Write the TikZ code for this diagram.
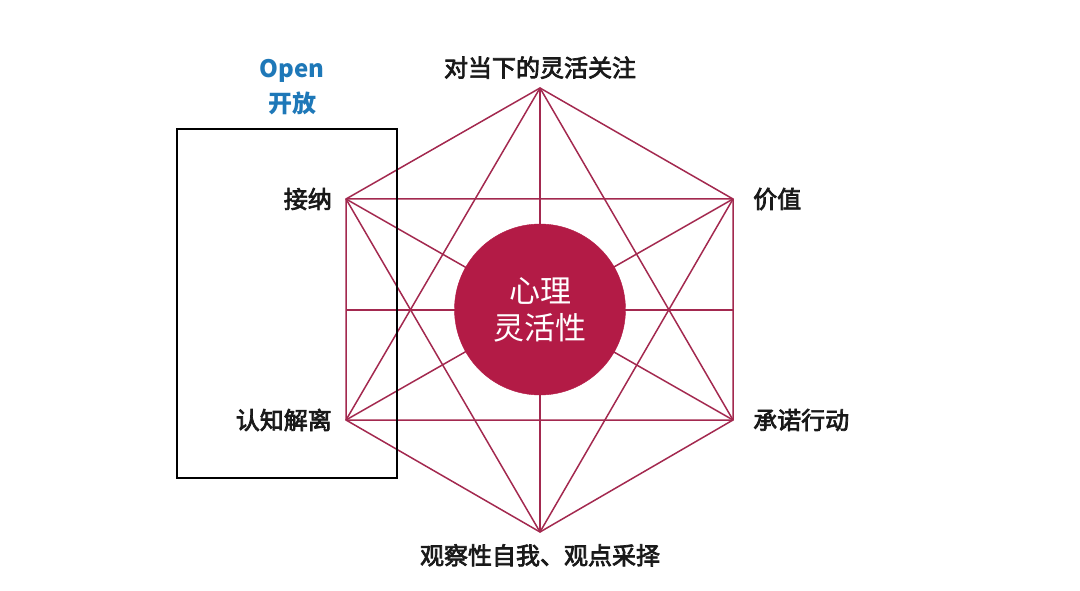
\documentclass[tikz,border=0pt]{standalone}
\usepackage{fontspec}
\setmainfont{Noto Sans CJK SC}
\newfontfamily\lblfont[FakeBold=3]{Noto Sans CJK SC}
\usetikzlibrary{positioning}
\definecolor{cCrimson}{HTML}{B31B46}
\definecolor{cLine}{HTML}{A3294F}
\definecolor{cBlue}{HTML}{1E78B8}

\begin{document}
\begin{tikzpicture}[
    x=1pt, y=-1pt,
    lbl/.style={inner sep=0pt, text=black!90, font=\fontsize{24pt}{28pt}\lblfont},
    hexline/.style={cLine, line width=1.5pt, line join=round},
    core/.style={circle, fill=cCrimson, draw=cCrimson, minimum size=171pt, inner sep=0pt, text=white, align=center, font=\fontsize{31pt}{37pt}\selectfont},
    openbox/.style={draw=black, line width=2pt, minimum width=220pt, minimum height=349pt, inner sep=0pt},
    opentxt/.style={text=cBlue, inner sep=0pt, font=\fontsize{24pt}{28pt}\selectfont\bfseries},
    node distance=14pt
]
\useasboundingbox (0,0) rectangle (1080,591);

% hexagon corners
\coordinate (vT) at (540,88);
\coordinate (vUR) at (733,199);
\coordinate (vLR) at (733,420);
\coordinate (vB) at (540,532);
\coordinate (vLL) at (346,420);
\coordinate (vUL) at (346,199);
\coordinate (mL) at (346,310);
\coordinate (mR) at (733,310);

\draw[hexline] (vT) -- (vUR) -- (vLR) -- (vB) -- (vLL) -- (vUL) -- cycle;
\draw[hexline] (vT) -- (vLR) -- (vLL) -- cycle;
\draw[hexline] (vB) -- (vUR) -- (vUL) -- cycle;
\draw[hexline] (vT) -- (vB);
\draw[hexline] (vUL) -- (vLR);
\draw[hexline] (vUR) -- (vLL);
\draw[hexline] (mL) -- (mR);

\node[core] (flex) at (540,309.5) {心理\\灵活性};

\node[openbox] (openrect) at (287,303.5) {};
\node[opentxt] (open) at (292,71) {Open};
\node[opentxt] (openzh) at (292,103) {开放};

\node[lbl, above=9pt of vT] (now) {对当下的灵活关注};
\node[lbl, right=20pt of vUR] (values) {价值};
\node[lbl, right=20pt of vLR] (action) {承诺行动};
\node[lbl, below=12pt of vB] (self) {观察性自我、观点采择};
\node[lbl, left=14pt of vLL] (defusion) {认知解离};
\node[lbl, left=14pt of vUL] (accept) {接纳};
\end{tikzpicture}
\end{document}
